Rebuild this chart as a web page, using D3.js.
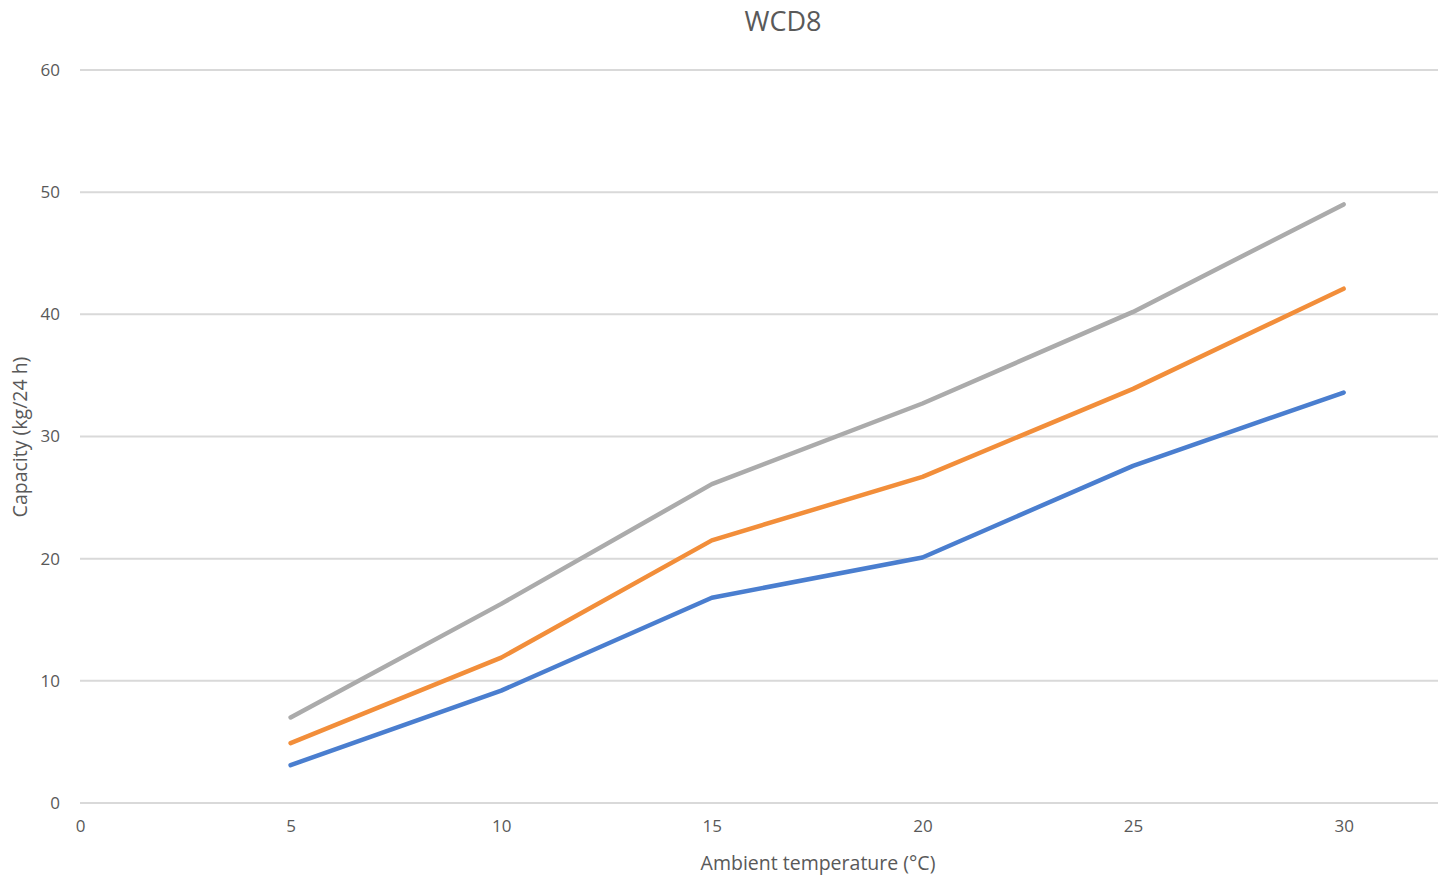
<!DOCTYPE html>
<html>
<head>
<meta charset="utf-8">
<script src="https://cdn.jsdelivr.net/npm/d3@7"></script>
<style>
  body { margin: 0; background: #fff; }
  text { font-family: "Open Sans", "Noto Sans", sans-serif; fill: #595959; }
</style>
</head>
<body>
<div id="chart"></div>
<script>
var temps = [5, 10, 15, 20, 25, 30];
var seriesLow = [3.1, 9.2, 16.8, 20.1, 27.6, 33.6];
var seriesMid = [4.9, 11.9, 21.5, 26.7, 33.9, 42.1];
var seriesHigh = [7.0, 16.3, 26.1, 32.7, 40.2, 49.0];
var yTicks = [0, 10, 20, 30, 40, 50, 60];
var xTicks = [0, 5, 10, 15, 20, 25, 30];
var colors = ["#4a7ecf", "#f28e3a", "#ababab"];

var width = 1447, height = 878;
var margin = {top: 70, right: 9, bottom: 75, left: 80};

var svg = d3.select("#chart").append("svg")
    .attr("width", width)
    .attr("height", height);

var innerW = width - margin.left - margin.right,
    innerH = height - margin.top - margin.bottom;

var x = d3.scaleLinear().domain([0, 32.24]).range([0, innerW]);
var y = d3.scaleLinear().domain([0, 60]).range([innerH, 0]);

var g = svg.append("g")
    .attr("transform", "translate(" + margin.left + "," + margin.top + ")");

// gridlines
g.selectAll(".grid")
  .data(yTicks)
  .enter().append("line")
  .attr("x1", 0).attr("x2", innerW)
  .attr("y1", d => y(d)).attr("y2", d => y(d))
  .attr("stroke", "#d9d9d9")
  .attr("stroke-width", 2);

// y axis labels
var yAxis = g.append("g")
  .call(d3.axisLeft(y).tickValues(yTicks).tickSize(0).tickPadding(20));
yAxis.select(".domain").remove();
yAxis.selectAll("text").attr("font-size", "17px").attr("fill", "#595959");

// x axis labels
var xAxis = g.append("g")
  .attr("transform", "translate(0," + innerH + ")")
  .call(d3.axisBottom(x).tickValues(xTicks).tickSize(0).tickPadding(17));
xAxis.select(".domain").remove();
xAxis.selectAll("text").attr("font-size", "17px").attr("fill", "#595959");

var line = d3.line()
  .x((d, i) => x(temps[i]))
  .y(d => y(d));

[seriesLow, seriesMid, seriesHigh].forEach(function(s, i) {
  g.append("path")
    .datum(s)
    .attr("fill", "none")
    .attr("stroke", colors[i])
    .attr("stroke-width", 4.5)
    .attr("stroke-linecap", "round")
    .attr("stroke-linejoin", "round")
    .attr("d", line);
});

// title
svg.append("text")
  .attr("x", 783)
  .attr("y", 31)
  .attr("text-anchor", "middle")
  .attr("font-size", "27px")
  .text("WCD8");

// axis titles
svg.append("text")
  .attr("x", 818)
  .attr("y", 870)
  .attr("text-anchor", "middle")
  .attr("font-size", "19.5px")
  .text("Ambient temperature (°C)");

svg.append("text")
  .attr("transform", "translate(27,437) rotate(-90)")
  .attr("text-anchor", "middle")
  .attr("font-size", "19.5px")
  .text("Capacity (kg/24 h)");
</script>
</body>
</html>
